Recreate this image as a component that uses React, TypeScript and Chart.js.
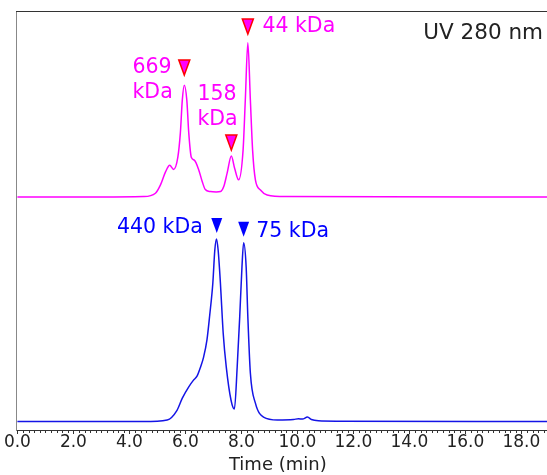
import React, { useEffect, useRef } from 'react';
import { Chart, registerables } from 'chart.js';

Chart.register(...registerables);

// Retention time (min) and signal (arbitrary units) for the magenta trace (upper)
const magentaTime = [0, 3.0, 4.5, 4.93, 5.11, 5.29, 5.44, 5.58, 5.73, 5.82, 5.89, 5.96, 6.05, 6.12, 6.21, 6.32, 6.48, 6.6, 6.71, 6.89, 7.1, 7.25, 7.37, 7.49, 7.64, 7.76, 7.9, 8.06, 8.14, 8.23, 8.32, 8.4, 8.5, 8.68, 8.92, 9.6, 19];
const magentaSignal = [0, 0, 0.1, 0.9, 2.9, 6.0, 7.6, 6.6, 9.5, 15.3, 23.2, 26.7, 23.2, 15.3, 9.5, 8.8, 6.4, 3.7, 1.8, 1.3, 1.2, 1.3, 2.5, 5.7, 9.8, 6.8, 4.1, 11.2, 23.2, 36.8, 23.2, 11.2, 4.1, 1.7, 0.5, 0.1, 0];

// Blue trace (lower)
const blueTime = [0, 4.5, 5.35, 5.7, 5.89, 6.12, 6.29, 6.42, 6.54, 6.65, 6.77, 6.87, 6.98, 7.05, 7.11, 7.17, 7.25, 7.35, 7.46, 7.63, 7.75, 7.85, 7.94, 8.02, 8.08, 8.17, 8.23, 8.32, 8.5, 8.79, 9.29, 9.86, 10.04, 10.18, 10.36, 10.5, 10.75, 11.5, 19];
const blueSignal = [0, 0, 0.4, 2.7, 5.6, 8.3, 9.9, 10.9, 13.0, 15.4, 19.5, 25.5, 33.1, 40.9, 43.6, 40.9, 33.1, 21.1, 13.0, 5.1, 3.0, 13.1, 25.0, 36.9, 42.7, 36.9, 25.0, 11.6, 4.4, 1.1, 0.4, 0.5, 0.7, 0.6, 1.1, 0.5, 0.2, 0.1, 0];

const MAGENTA_OFFSET = 55.6;
const BLUE_OFFSET = 2.0;

// Peak markers (time, tip value in plot units)
const magentaMarkerTimes = [5.96, 7.64, 8.23];
const magentaMarkerTips = [84.7, 66.8, 94.5];
const blueMarkerTimes = [7.12, 8.08];
const blueMarkerTips = [47.0, 46.1];

// Text labels
const labelTexts = ['669', 'kDa', '158', 'kDa', '44 kDa', '440 kDa', '75 kDa', 'UV 280 nm'];
const labelTimes = [4.11, 4.11, 6.43, 6.43, 8.75, 6.62, 8.53, 18.77];
const labelValues = [86.4, 80.4, 80.0, 74.0, 96.2, 48.2, 47.3, 94.7];
const labelAligns = ['left', 'left', 'left', 'left', 'left', 'right', 'left', 'right'];
const labelColors = ['#ff00ff', '#ff00ff', '#ff00ff', '#ff00ff', '#ff00ff', '#0000ff', '#0000ff', '#222222'];
const labelSizes = [20.5, 20.5, 20.5, 20.5, 20.5, 20.5, 20.5, 21.5];

const xTitle = 'Time (min)';
const xTickStep = 2;
const xMinorStep = 0.2;
const xMin = -0.05;
const xMax = 18.95;

const FONT = 'DejaVu Sans';

const annotationPlugin = {
  id: 'chromAnnotations',
  afterDatasetsDraw(chart: any) {
    const { ctx, chartArea, scales } = chart;
    const x = scales.x;
    const y = scales.y;
    ctx.save();
    // top frame line
    ctx.strokeStyle = '#333';
    ctx.lineWidth = 1;
    ctx.beginPath();
    ctx.moveTo(chartArea.left, chartArea.top + 0.5);
    ctx.lineTo(chartArea.right, chartArea.top + 0.5);
    ctx.stroke();

    // ticks on x axis (major + minor)
    const n = Math.floor(xMax / xMinorStep);
    ctx.strokeStyle = '#333';
    for (let i = 0; i <= n; i++) {
      const v = i * xMinorStep;
      const px = Math.round(x.getPixelForValue(v)) + 0.5;
      const major = Math.abs(v / xTickStep - Math.round(v / xTickStep)) < 1e-6;
      ctx.beginPath();
      ctx.moveTo(px, chartArea.bottom);
      ctx.lineTo(px, chartArea.bottom + (major ? 4 : 3));
      ctx.stroke();
    }

    // axis title
    ctx.font = `18px "${FONT}"`;
    ctx.fillStyle = '#222';
    ctx.textAlign = 'center';
    ctx.textBaseline = 'middle';
    ctx.fillText(xTitle, x.getPixelForValue(9.3), chartArea.bottom + 35);

    const tri = (t: number, v: number, fill: string, stroke: string | null) => {
      const px = x.getPixelForValue(t);
      const py = y.getPixelForValue(v);
      const w = 11;
      const h = 15;
      ctx.beginPath();
      ctx.moveTo(px - w / 2, py - h);
      ctx.lineTo(px + w / 2, py - h);
      ctx.lineTo(px, py);
      ctx.closePath();
      ctx.fillStyle = fill;
      ctx.fill();
      if (stroke) {
        ctx.strokeStyle = stroke;
        ctx.lineWidth = 1.5;
        ctx.stroke();
      }
    };
    magentaMarkerTimes.forEach((t, i) => tri(t, magentaMarkerTips[i], '#ff00ff', '#ff0000'));
    blueMarkerTimes.forEach((t, i) => tri(t, blueMarkerTips[i], '#0000ff', null));

    ctx.textBaseline = 'middle';
    labelTexts.forEach((txt, i) => {
      ctx.font = `${labelSizes[i]}px "${FONT}"`;
      ctx.fillStyle = labelColors[i];
      ctx.textAlign = labelAligns[i] as CanvasTextAlign;
      ctx.fillText(txt, x.getPixelForValue(labelTimes[i]), y.getPixelForValue(labelValues[i]));
    });
    ctx.restore();
  },
};

export default function App() {
  const ref = useRef<HTMLCanvasElement>(null);
  useEffect(() => {
    const chart = new Chart(ref.current as HTMLCanvasElement, {
      type: 'line',
      data: {
        datasets: [
          {
            data: magentaTime.map((t, i) => ({ x: t, y: magentaSignal[i] + MAGENTA_OFFSET })),
            borderColor: '#ff00ff',
            borderWidth: 1.5,
            pointRadius: 0,
            cubicInterpolationMode: 'monotone',
            fill: false,
          },
          {
            data: blueTime.map((t, i) => ({ x: t, y: blueSignal[i] + BLUE_OFFSET })),
            borderColor: '#1414e6',
            borderWidth: 1.5,
            pointRadius: 0,
            cubicInterpolationMode: 'monotone',
            fill: false,
          },
        ],
      },
      options: {
        animation: false,
        responsive: false,
        events: [],
        layout: { padding: { left: 16, right: 12, top: 11, bottom: 0 } },
        plugins: { legend: { display: false }, tooltip: { enabled: false } },
        scales: {
          x: {
            type: 'linear',
            min: xMin,
            max: xMax,
            afterFit: (s: any) => { s.height = 45; },
            grid: { display: false },
            border: { display: true, color: '#333', width: 1 },
            ticks: {
              stepSize: xTickStep,
              includeBounds: false,
              padding: -6,
              color: '#222',
              font: { family: FONT, size: 17 },
              maxRotation: 0,
              autoSkip: false,
              callback: (v: any) => Number(v).toFixed(1),
            },
            title: { display: false },
          },
          y: {
            min: 0,
            max: 100,
            afterFit: (s: any) => { s.width = 0; },
            grid: { display: false },
            border: { display: true, color: '#888', width: 1 },
            ticks: { display: false },
          },
        },
      } as any,
      plugins: [annotationPlugin],
    });
    return () => chart.destroy();
  }, []);
  return (
    <div style={{ position: 'fixed', left: 0, top: 0, width: 560, height: 475, background: '#fff' }}>
      <canvas ref={ref} width={560} height={475} style={{ display: 'block' }} />
    </div>
  );
}
